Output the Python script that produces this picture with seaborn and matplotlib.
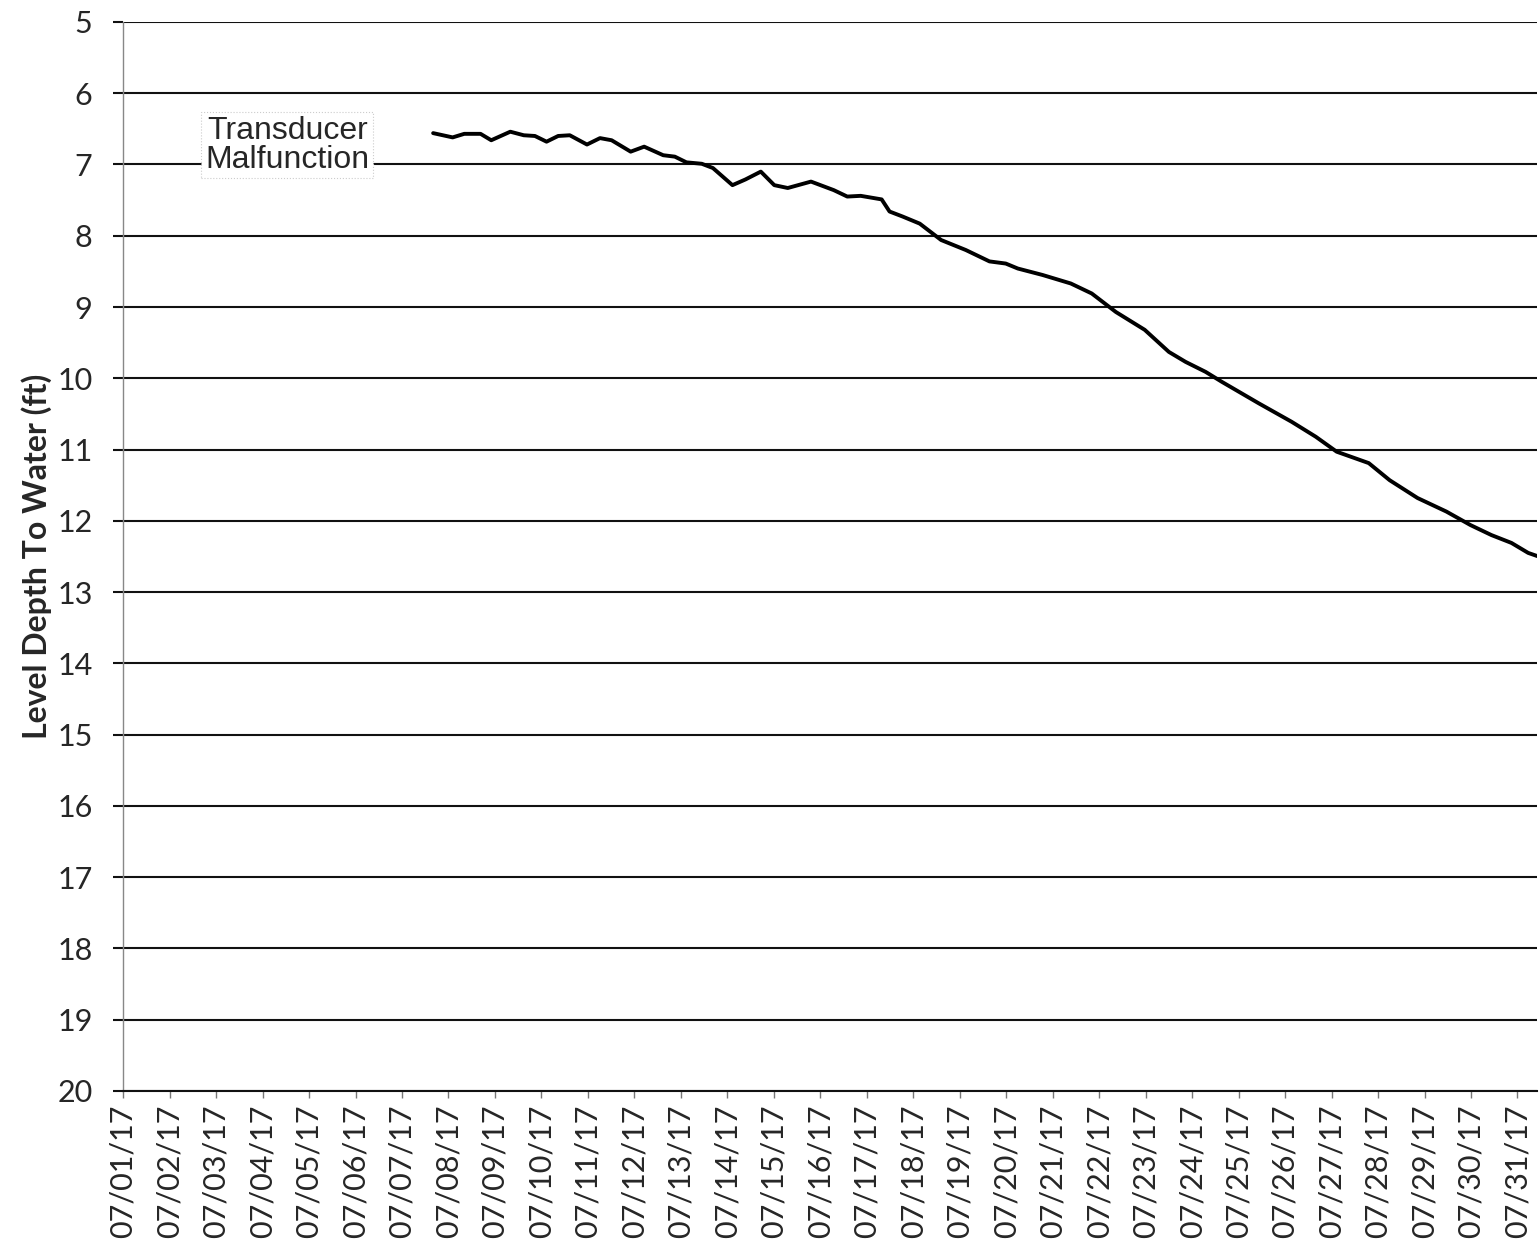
import matplotlib
matplotlib.use("Agg")
import matplotlib.pyplot as plt
import matplotlib.dates as mdates
import seaborn as sns
import pandas as pd

# days elapsed since 07/01/17 00:00
days = [6.67, 7.09, 7.34, 7.69, 7.92, 8.33, 8.62, 8.86, 9.11, 9.36, 9.61, 9.98,
        10.26, 10.51, 10.92, 11.21, 11.62, 11.87, 12.12, 12.45, 12.69, 13.11,
        13.39, 13.72, 14.01, 14.30, 14.80, 15.29, 15.58, 15.87, 16.32, 16.49,
        16.77, 17.14, 17.60, 18.13, 18.64, 18.99, 19.25, 19.78, 20.39, 20.84,
        21.36, 21.98, 22.50, 22.86, 23.29, 23.64, 24.43, 25.14, 25.66, 26.11,
        26.80, 27.25, 27.85, 28.47, 28.99, 29.44, 29.87, 30.23, 30.45]
depth = [6.56, 6.62, 6.57, 6.57, 6.66, 6.54, 6.59, 6.60, 6.68, 6.60, 6.59, 6.72,
         6.63, 6.66, 6.82, 6.75, 6.87, 6.89, 6.97, 6.99, 7.05, 7.29,
         7.21, 7.10, 7.29, 7.33, 7.24, 7.36, 7.45, 7.44, 7.49, 7.66,
         7.73, 7.83, 8.06, 8.20, 8.36, 8.39, 8.46, 8.55, 8.67, 8.81,
         9.07, 9.32, 9.63, 9.77, 9.91, 10.05, 10.35, 10.61, 10.82, 11.03,
         11.19, 11.43, 11.68, 11.87, 12.06, 12.20, 12.31, 12.45, 12.50]
y_ticks = list(range(5, 21))
tick_days = pd.date_range("2017-07-01", "2017-07-31", freq="D")
note = "Transducer\nMalfunction"

start = pd.Timestamp("2017-07-01")
df = pd.DataFrame({"time": start + pd.to_timedelta(days, unit="D"), "depth": depth})

sns.set_style("white")
plt.rcParams["font.family"] = ["Lato", "DejaVu Sans"]

fig = plt.figure(figsize=(15.39, 12.54), dpi=100)
ax = fig.add_axes([0.080, 0.130, 0.9187, 0.8525])

sns.lineplot(data=df, x="time", y="depth", ax=ax, color="black", linewidth=2.8,
             solid_joinstyle="round", solid_capstyle="round")

ax.set_ylim(20, 5)
ax.set_yticks(y_ticks)
ax.set_xlim(start, start + pd.Timedelta(days=30.42))
ax.set_xticks(tick_days)
ax.xaxis.set_major_formatter(mdates.DateFormatter("%m/%d/%y"))

ax.grid(axis="y", color="#111111", linewidth=1.5)
ax.grid(axis="x", visible=False)
ax.set_axisbelow(True)

for s in ["top", "right"]:
    ax.spines[s].set_visible(False)
ax.spines["left"].set_color("#888888")
ax.spines["left"].set_linewidth(1.0)
ax.spines["bottom"].set_color("#111111")
ax.spines["bottom"].set_linewidth(1.5)

ax.tick_params(axis="y", length=7, width=1.5, color="#111111", labelsize=22, pad=15, left=True)
ax.tick_params(axis="x", length=5, width=1.0, color="#777777", labelsize=22, pad=5,
               rotation=90, bottom=True)

ax.set_xlabel("")
ax.set_ylabel("Level Depth To Water (ft)", fontsize=23, fontweight="bold", labelpad=4)

ax.text(start + pd.Timedelta(days=3.53), 6.73, note, ha="center", va="center",
        fontsize=23, family=["Liberation Sans", "DejaVu Sans"], linespacing=0.95,
        bbox=dict(facecolor="white", edgecolor="#cccccc", linestyle=":", linewidth=0.8,
                  boxstyle="square,pad=0.12"))

fig.savefig("out.png", dpi=100)
